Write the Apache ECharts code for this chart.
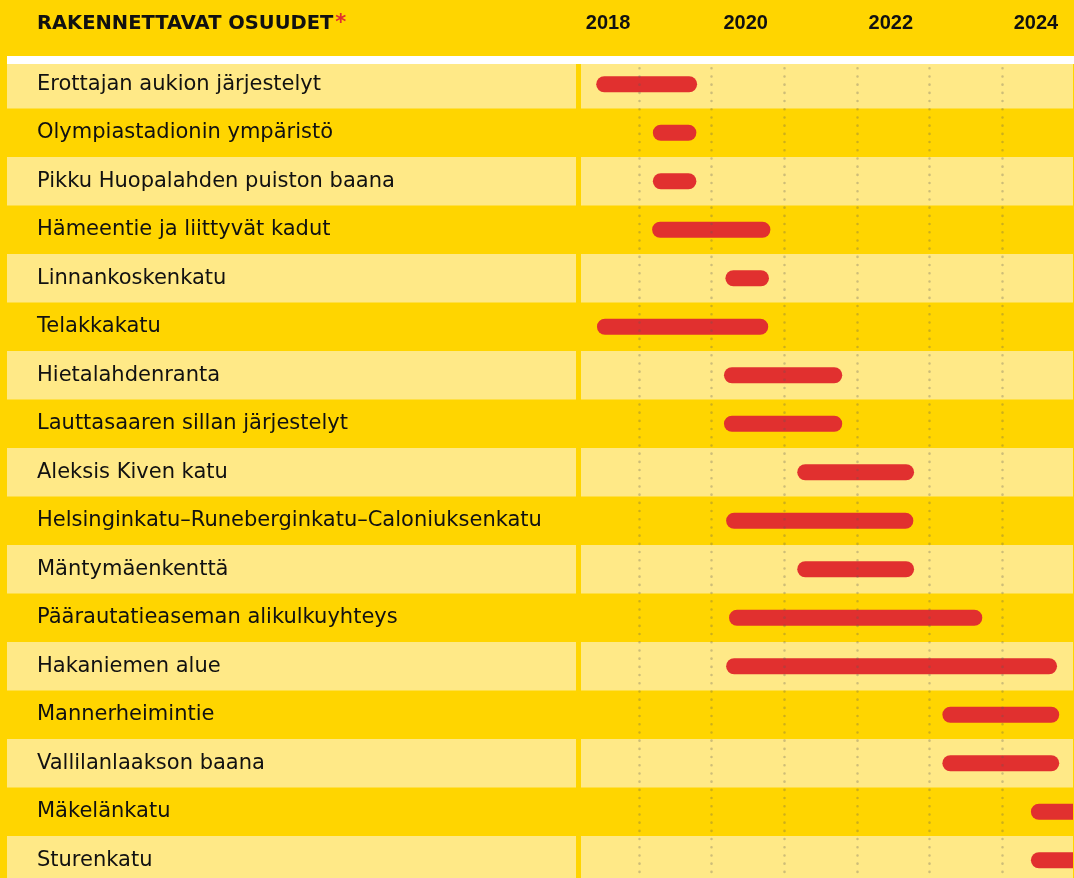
<!DOCTYPE html>
<html>
<head>
<meta charset="utf-8">
<script src="https://cdn.jsdelivr.net/npm/echarts@6/dist/echarts.min.js"></script>
<style>
  html, body { margin: 0; padding: 0; background: #ffd500; }
  #chart { width: 1074px; height: 878px; }
</style>
</head>
<body>
<div id="chart"></div>
<script>
// rakennettavat osuudet, alku- ja loppuvuosi (desimaalivuosina)
const sections = [
  'Erottajan aukion järjestelyt',
  'Olympiastadionin ympäristö',
  'Pikku Huopalahden puiston baana',
  'Hämeentie ja liittyvät kadut',
  'Linnankoskenkatu',
  'Telakkakatu',
  'Hietalahdenranta',
  'Lauttasaaren sillan järjestelyt',
  'Aleksis Kiven katu',
  'Helsinginkatu–Runeberginkatu–Caloniuksenkatu',
  'Mäntymäenkenttä',
  'Päärautatieaseman alikulkuyhteys',
  'Hakaniemen alue',
  'Mannerheimintie',
  'Vallilanlaakson baana',
  'Mäkelänkatu',
  'Sturenkatu'
];
const startYears = [2018.41, 2019.19, 2019.19, 2019.18, 2020.19, 2018.42, 2020.17, 2020.17, 2021.18,
  2020.20, 2021.18, 2020.24, 2020.20, 2023.18, 2023.18, 2024.40, 2024.40];
const endYears = [2019.80, 2019.79, 2019.79, 2020.81, 2020.79, 2020.78, 2021.80, 2021.80, 2022.79,
  2022.78, 2022.79, 2023.73, 2024.76, 2024.79, 2024.79, 2025.30, 2025.30];
const yearLabels = [2018, 2020, 2022, 2024];

const YELLOW = '#ffd500';
const LIGHT = '#ffe987';
const RED = '#e1302f';
const rowColors = [LIGHT, 'rgba(0,0,0,0)'];
const yearFont = {fontFamily: 'Liberation Sans', fontWeight: 'bold', fontSize: 20, color: '#111'};

const chart = echarts.init(document.getElementById('chart'));

const option = {
  backgroundColor: YELLOW,
  animation: false,
  title: {
    left: 37,
    top: 13,
    padding: 0,
    text: '{a|RAKENNETTAVAT OSUUDET}{b|*}',
    textStyle: {
      rich: {
        a: {fontFamily: 'DejaVu Sans', fontWeight: 'bold', fontSize: 19.5, color: '#111'},
        b: {fontFamily: 'DejaVu Sans', fontWeight: 'bold', fontSize: 21, color: RED, padding: [0, 0, 0, 2]}
      }
    }
  },
  graphic: [
    {type: 'rect', left: 7, top: 56, shape: {width: 1067, height: 8}, style: {fill: '#fff'}, z: 10}
  ],
  grid: [
    {left: 7, top: 60, width: 569, height: 824.5, outerBoundsMode: 'none'},
    {left: 581, top: 60, width: 492, height: 824.5, outerBoundsMode: 'none'}
  ],
  xAxis: [
    {gridIndex: 0, type: 'value', show: false},
    {
      gridIndex: 1,
      type: 'value',
      position: 'top',
      min: 2018.20,
      max: 2024.98,
      splitNumber: 7,
      z: 5,
      axisLine: {show: false},
      axisTick: {show: false},
      axisLabel: {
        customValues: yearLabels.map(y => y + 0.47),
        // ensimmäinen vuosi hieman oikealle, kuten alkuperäisessä
        formatter: v => {
          const y = Math.floor(v);
          return y === yearLabels[0] ? '{first|' + y + '}' : String(y);
        },
        margin: 27,
        ...yearFont,
        rich: {
          first: {...yearFont, padding: [0, 0, 0, 15]}
        }
      },
      splitLine: {
        show: true,
        showMinLine: false,
        showMaxLine: false,
        lineStyle: {color: 'rgba(90,90,90,0.3)', width: 2.5, type: [0.1, 8.1], cap: 'round'}
      }
    }
  ],
  yAxis: [
    {
      gridIndex: 0,
      type: 'category',
      inverse: true,
      data: sections,
      axisLine: {show: false},
      axisTick: {show: false},
      axisLabel: {inside: true, interval: 0, margin: 30, fontFamily: 'DejaVu Sans', fontSize: 21, color: '#111'},
      splitArea: {show: true, interval: 0, areaStyle: {color: rowColors}}
    },
    {
      gridIndex: 1,
      type: 'category',
      inverse: true,
      data: sections,
      axisLine: {show: false},
      axisTick: {show: false},
      axisLabel: {show: false, interval: 0},
      splitArea: {show: true, interval: 0, areaStyle: {color: rowColors}}
    }
  ],
  series: [
    {
      type: 'custom',
      xAxisIndex: 1,
      yAxisIndex: 1,
      clip: true,
      encode: {x: [1, 2], y: 0},
      data: sections.map((s, i) => [i, startYears[i], endYears[i]]),
      renderItem: (params, api) => {
        const row = api.value(0);
        const a = api.coord([api.value(1), row]);
        const b = api.coord([api.value(2), row]);
        const h = 16;
        return {
          type: 'rect',
          shape: {x: a[0], y: a[1] - h / 2, width: b[0] - a[0], height: h, r: h / 2},
          style: {fill: RED}
        };
      }
    }
  ]
};

chart.setOption(option);
</script>
</body>
</html>
